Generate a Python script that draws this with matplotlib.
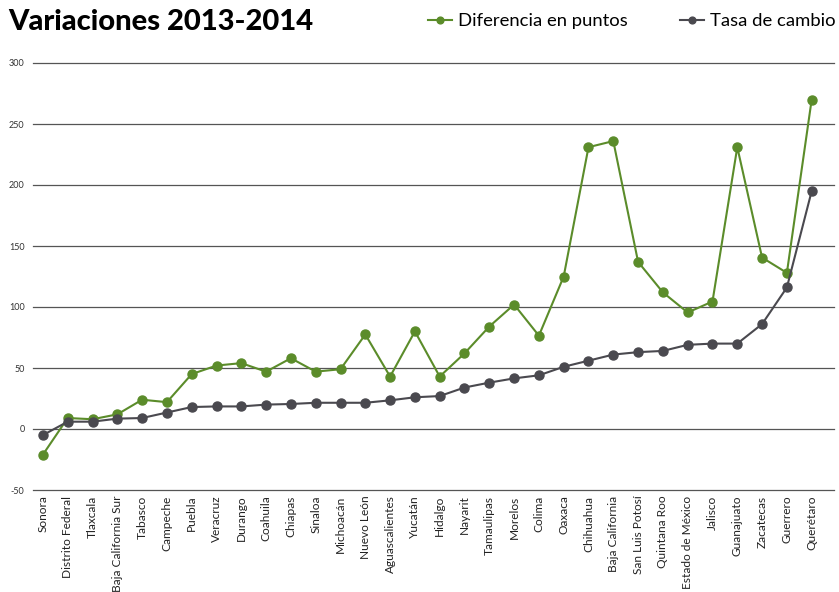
import matplotlib
matplotlib.use("Agg")
import matplotlib.pyplot as plt

plt.rcParams['font.family'] = ['Lato', 'DejaVu Sans']

estados = ["Sonora", "Distrito Federal", "Tlaxcala", "Baja California Sur", "Tabasco",
           "Campeche", "Puebla", "Veracruz", "Durango", "Coahuila", "Chiapas", "Sinaloa",
           "Michoacán", "Nuevo León", "Aguascalientes", "Yucatán", "Hidalgo", "Nayarit",
           "Tamaulipas", "Morelos", "Colima", "Oaxaca", "Chihuahua", "Baja California",
           "San Luis Potosí", "Quintana Roo", "Estado de México", "Jalisco", "Guanajuato",
           "Zacatecas", "Guerrero", "Querétaro"]

diferencia = [-21, 9, 8, 12, 24, 22, 45, 52, 54, 47, 58, 47, 49, 77.5, 43, 80, 43, 62,
              84, 102, 76.5, 125, 231, 236, 137, 112, 95.5, 104.5, 231, 140.5, 128, 270]

tasa = [-5, 6, 6, 8.5, 9, 13.5, 18, 18.5, 18.5, 20, 20.5, 21.5, 21.5, 21.5, 23.5, 26,
        27, 34, 38, 41.5, 44, 51, 56, 61, 63, 64, 69, 70, 70, 86, 116, 195]

yticks = [-50, 0, 50, 100, 150, 200, 250, 300]

green = "#5b8c2a"
gray = "#4a494f"

fig = plt.figure(figsize=(8.39, 5.92), dpi=100)
ax = fig.add_axes([33/839, 1-490/592, (834-33)/839, (490-63)/592])

x = list(range(len(estados)))
ax.plot(x, diferencia, color=green, lw=1.5, marker="o", ms=6.5, label="Diferencia en puntos", zorder=3)
ax.plot(x, tasa, color=gray, lw=1.5, marker="o", ms=6.5, label="Tasa de cambio", zorder=3)

ax.set_ylim(-50, 300)
ax.set_xlim(-0.4, 31.9)
ax.set_yticks(yticks)
ax.set_yticklabels([str(v) for v in yticks], fontsize=6.5, color="#333333")
for v in yticks:
    ax.axhline(v, color="#555555", lw=0.9, zorder=1, clip_on=False)
ax.set_xticks(x)
ax.set_xticklabels(estados, rotation=90, fontsize=8.6, color="#222222", va="top")
ax.tick_params(axis="both", length=0, pad=6)
ax.tick_params(axis="x", pad=4)
for s in ax.spines.values():
    s.set_visible(False)

fig.text(8/839, 1-30/592, "Variaciones 2013-2014", fontsize=21, fontweight="black",
         color="#000000", ha="left", va="baseline")

fig.legend(loc="upper right", bbox_to_anchor=(1.016, 1.006), ncol=2, frameon=False,
           fontsize=13.3, handlelength=1.3, handletextpad=0.35, columnspacing=2.8,
           markerscale=0.75)

fig.savefig("out.png", dpi=100)
